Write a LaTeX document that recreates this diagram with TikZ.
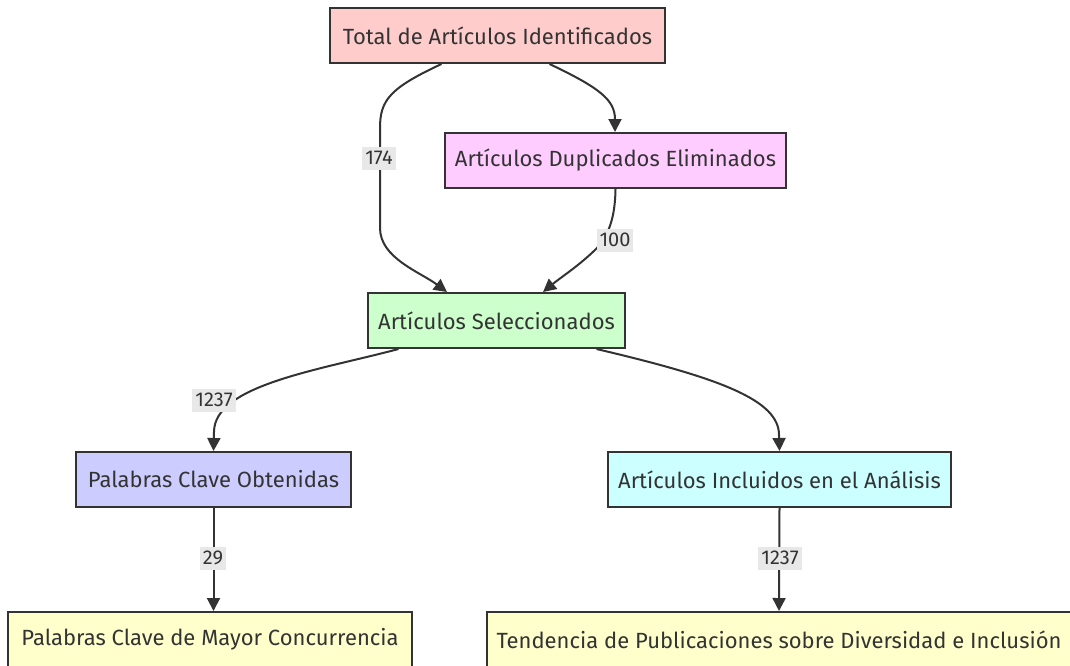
\documentclass[tikz,border=0pt]{standalone}
\usepackage{fontspec}
\setmainfont{Fira Sans}
\usetikzlibrary{arrows.meta}
\definecolor{ink}{HTML}{333333}
\definecolor{txt}{HTML}{333333}
\definecolor{lab}{HTML}{E8E8E8}
\definecolor{cA}{HTML}{FFCCCC}
\definecolor{cB}{HTML}{FFCCFF}
\definecolor{cC}{HTML}{CCFFCC}
\definecolor{cD}{HTML}{CCCCFF}
\definecolor{cE}{HTML}{CCFFFF}
\definecolor{cF}{HTML}{FFFFCC}
\begin{document}
\begin{tikzpicture}[x=1pt,y=-1pt,
  box/.style={draw=ink,line width=2pt,minimum height=55pt,inner sep=0pt,
    text=txt,font=\fontsize{22}{26}\selectfont},
  elab/.style={fill=lab,text=txt,inner xsep=3pt,inner ysep=0pt,minimum height=23pt,font=\fontsize{20}{24}\selectfont},
  conn/.style={draw=ink,line width=2pt,-{Triangle[length=13pt,width=13pt]}}]
\useasboundingbox (0,0) rectangle (1070,665);
\clip (0,0) rectangle (1070,665);
\node[box,fill=cA,minimum width=335pt] (t) at (497.5,35.5) {Total de Artículos Identificados};
\node[box,fill=cB,minimum width=341pt] (d) at (615.5,160.5) {Artículos Duplicados Eliminados};
\node[box,fill=cC,minimum width=257pt] (s) at (496.5,320.5) {Artículos Seleccionados};
\node[box,fill=cD,minimum width=275pt] (p) at (213.5,479.5) {Palabras Clave Obtenidas};
\node[box,fill=cE,minimum width=343pt] (i) at (779.5,479.5) {Artículos Incluidos en el Análisis};
\node[box,fill=cF,minimum width=404pt] (m) at (210,639.5) {Palabras Clave de Mayor Concurrencia};
\node[box,fill=cF,minimum width=584pt] (n) at (779,639.5) {Tendencia de Publicaciones sobre Diversidad e Inclusión};
% edges
\draw[conn] ([xshift=-56pt]t.south) .. controls (390,88) and (380,100) .. (380,128) -- (380,228) .. controls (380,258) and (420,272) .. (447,292);
\draw[conn] ([xshift=52pt]t.south) .. controls (600,88) and (615,100) .. (615,132);
\draw[conn] (d.south) .. controls (615,225) and (605,238) .. (597,248) .. controls (580,265) and (560,278) .. (543,292);
\draw[conn] ([xshift=-98pt]s.south) .. controls (320,370) and (214,385) .. (214,432) -- (p.north);
\draw[conn] ([xshift=100pt]s.south) .. controls (720,378) and (779,400) .. (779,435) -- (i.north);
\draw[conn] (p.south) -- ([xshift=3.5pt]m.north);
\draw[conn] (i.south) -- (n.north);
% labels
\node[elab] (l1) at (379,158) {174};
\node[elab] (l2) at (615,240) {100};
\node[elab] (l3) at (214,400) {1237};
\node[elab] (l4) at (213,558) {29};
\node[elab] (l5) at (780,558) {1237};
\end{tikzpicture}
\end{document}
